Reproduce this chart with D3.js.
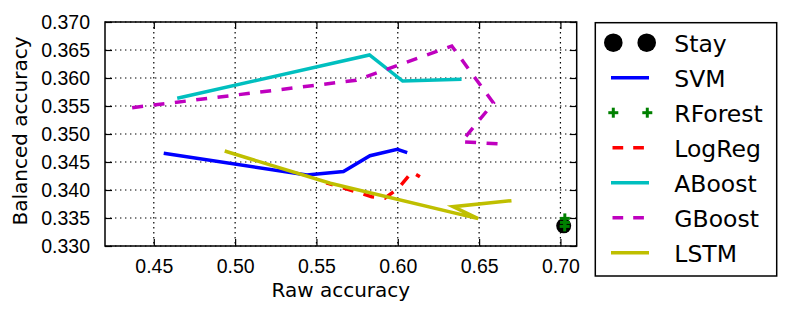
<!DOCTYPE html>
<html>
<head>
<meta charset="utf-8">
<script src="https://cdn.jsdelivr.net/npm/d3@7"></script>
<style>
  body { margin: 0; background: #fff; }
  svg { display: block; font-family: "DejaVu Sans", sans-serif; }
</style>
</head>
<body>
<div id="chart"></div>
<script>
// Data ----------------------------------------------------------------------------------------------------------------
const stayX = [0.7020];
const stayY = [0.3336];
const svmX = [0.4561, 0.5441, 0.5666, 0.5829, 0.5997, 0.6058];
const svmY = [0.34655, 0.34268, 0.34330, 0.34612, 0.34727, 0.34667];
const rforestX = [0.7027, 0.7028, 0.7026];
const rforestY = [0.33493, 0.33421, 0.33350];
const logregX = [0.5560, 0.5840, 0.5920, 0.6003, 0.6087, 0.6136];
const logregY = [0.34130, 0.33880, 0.33855, 0.34030, 0.34321, 0.34237];
const aboostX = [0.4644, 0.5826, 0.6030, 0.6392];
const aboostY = [0.35637, 0.36411, 0.35946, 0.35977];
const gboostX = [0.4367, 0.5745, 0.6332, 0.6588, 0.6392, 0.6637];
const gboostY = [0.35470, 0.35960, 0.36571, 0.35554, 0.34863, 0.34821];
const lstmX = [0.4936, 0.5585, 0.6494, 0.6340, 0.6699];
const lstmY = [0.34696, 0.34120, 0.33488, 0.33702, 0.33809];

const xTicks = [0.45, 0.50, 0.55, 0.60, 0.65, 0.70];
const yTicks = [0.330, 0.335, 0.340, 0.345, 0.350, 0.355, 0.360, 0.365, 0.370];

const zip = (xs, ys) => xs.map((x, i) => [x, ys[i]]);

const series = [
  { name: "Stay", data: zip(stayX, stayY), color: "#000000", marker: "circle" },
  { name: "SVM", data: zip(svmX, svmY), color: "#0000ff", line: "solid" },
  { name: "RForest", data: zip(rforestX, rforestY), color: "#008000", marker: "plus" },
  { name: "LogReg", data: zip(logregX, logregY), color: "#ff0000", line: "dashed", offset: 4 },
  { name: "ABoost", data: zip(aboostX, aboostY), color: "#00bfbf", line: "solid" },
  { name: "GBoost", data: zip(gboostX, gboostY), color: "#bf00bf", line: "dashed", offset: 0 },
  { name: "LSTM", data: zip(lstmX, lstmY), color: "#bfbf00", line: "solid" }
];

// Canvas --------------------------------------------------------------------------------------------------------------
const canvasWidth = 789;
const canvasHeight = 313;
const plotLeft = 105;
const plotRight = 576.7;
const plotTop = 22;
const plotBottom = 246;
const tickLength = 7;
const lineWidth = 3.5;
const dashPattern = "11,10.5";

const svg = d3.select("#chart")
  .append("svg")
  .attr("width", canvasWidth)
  .attr("height", canvasHeight);

const xScale = d3.scaleLinear().domain([0.42, 0.71]).range([plotLeft, plotRight]);
const yScale = d3.scaleLinear().domain([0.330, 0.370]).range([plotBottom, plotTop]);

// Grid ----------------------------------------------------------------------------------------------------------------
const grid = svg.append("g");
grid.selectAll(".vgrid")
  .data(xTicks)
  .join("line")
  .attr("x1", d => xScale(d)).attr("x2", d => xScale(d))
  .attr("y1", plotTop).attr("y2", plotBottom)
  .attr("stroke", "#000").attr("stroke-width", 1.2)
  .attr("stroke-dasharray", "1.4,3.6");
grid.selectAll(".hgrid")
  .data(yTicks)
  .join("line")
  .attr("x1", plotLeft).attr("x2", plotRight)
  .attr("y1", d => yScale(d)).attr("y2", d => yScale(d))
  .attr("stroke", "#000").attr("stroke-width", 1.2)
  .attr("stroke-dasharray", "1.4,3.6");

// Axes (ticks inward on all four sides) -------------------------------------------------------------------------------
const axisFontSize = 19.5;
const styleAxis = function(g) {
  g.select(".domain").remove();
  g.selectAll("line").attr("stroke", "#000").attr("stroke-width", 1.2);
  g.selectAll("text").style("font-size", axisFontSize + "px").attr("fill", "#000");
};

svg.append("g")
  .attr("transform", "translate(0," + plotBottom + ")")
  .call(d3.axisBottom(xScale).tickValues(xTicks).tickFormat(d3.format(".2f")).tickSizeInner(-tickLength).tickPadding(13))
  .call(styleAxis);
svg.append("g")
  .attr("transform", "translate(0," + plotTop + ")")
  .call(d3.axisTop(xScale).tickValues(xTicks).tickSizeInner(-tickLength).tickFormat(""))
  .call(styleAxis);
svg.append("g")
  .attr("transform", "translate(" + plotLeft + ",0)")
  .call(d3.axisLeft(yScale).tickValues(yTicks).tickFormat(d3.format(".3f")).tickSizeInner(-tickLength).tickPadding(15))
  .call(styleAxis);
svg.append("g")
  .attr("transform", "translate(" + plotRight + ",0)")
  .call(d3.axisRight(yScale).tickValues(yTicks).tickSizeInner(-tickLength).tickFormat(""))
  .call(styleAxis);

// Axis titles
svg.append("text")
  .text("Raw accuracy")
  .attr("x", (plotLeft + plotRight) / 2)
  .attr("y", 297)
  .style("text-anchor", "middle")
  .style("font-size", "20px");
svg.append("text")
  .text("Balanced accuracy")
  .attr("transform", "translate(27," + 131 + ") rotate(-90)")
  .style("text-anchor", "middle")
  .style("font-size", "20px");

// Marks ---------------------------------------------------------------------------------------------------------------
const line = d3.line().x(d => xScale(d[0])).y(d => yScale(d[1]));
const marks = svg.append("g");

const drawPlus = function(g, x, y, size, color) {
  g.append("line").attr("x1", x - size / 2).attr("x2", x + size / 2).attr("y1", y).attr("y2", y)
    .attr("stroke", color).attr("stroke-width", 3);
  g.append("line").attr("x1", x).attr("x2", x).attr("y1", y - size / 2).attr("y2", y + size / 2)
    .attr("stroke", color).attr("stroke-width", 3);
};

series.forEach(function(s) {
  if (s.line) {
    marks.append("path")
      .datum(s.data)
      .attr("d", line)
      .attr("fill", "none")
      .attr("stroke", s.color)
      .attr("stroke-width", lineWidth)
      .attr("stroke-linejoin", "miter")
      .attr("stroke-dasharray", s.line == "dashed" ? dashPattern : null)
      .attr("stroke-dashoffset", s.line == "dashed" ? s.offset : null);
  } else if (s.marker == "circle") {
    marks.selectAll(null)
      .data(s.data)
      .join("circle")
      .attr("cx", d => xScale(d[0]))
      .attr("cy", d => yScale(d[1]))
      .attr("r", 7.5)
      .attr("fill", s.color);
  } else if (s.marker == "plus") {
    s.data.forEach(d => drawPlus(marks, xScale(d[0]), yScale(d[1]), 10, s.color));
  }
});

// Frame around the plot area
svg.append("rect")
  .attr("x", plotLeft).attr("y", plotTop)
  .attr("width", plotRight - plotLeft).attr("height", plotBottom - plotTop)
  .attr("fill", "none").attr("stroke", "#000").attr("stroke-width", 1.5);

// Legend --------------------------------------------------------------------------------------------------------------
const legendX = 595.3;
const legendY = 22.7;
const legendW = 181.4;
const legendH = 253.3;
const rowStart = 42.7;
const rowStep = 35;
const legendFontSize = 23.5;

const legend = svg.append("g");
legend.append("rect")
  .attr("x", legendX).attr("y", legendY)
  .attr("width", legendW).attr("height", legendH)
  .attr("fill", "#fff").attr("stroke", "#000").attr("stroke-width", 1.5);

series.forEach(function(s, i) {
  const cy = rowStart + i * rowStep;
  if (s.line) {
    legend.append("line")
      .attr("x1", 611).attr("x2", 649).attr("y1", cy).attr("y2", cy)
      .attr("stroke", s.color).attr("stroke-width", lineWidth)
      .attr("stroke-dasharray", s.line == "dashed" ? "10.7,10" : null)
      .attr("stroke-dashoffset", s.line == "dashed" ? -1.5 : null);
  } else if (s.marker == "circle") {
    [613.3, 646.7].forEach(x => legend.append("circle").attr("cx", x).attr("cy", cy).attr("r", 9.3).attr("fill", s.color));
  } else if (s.marker == "plus") {
    [613.3, 647.3].forEach(x => drawPlus(legend, x, cy, 10, s.color));
  }
  legend.append("text")
    .text(s.name)
    .attr("x", 674.3)
    .attr("y", cy + 8.8)
    .style("font-size", legendFontSize + "px");
});
</script>
</body>
</html>
